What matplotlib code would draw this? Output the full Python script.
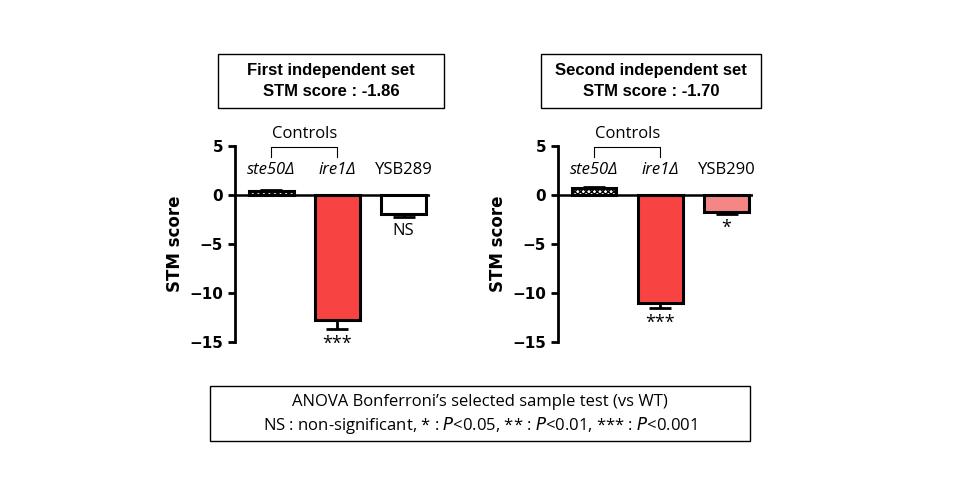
import matplotlib
matplotlib.use("Agg")
import matplotlib.pyplot as plt
from matplotlib.patches import Rectangle

strains_left = ["ste50Δ", "ire1Δ", "YSB289"]
strains_right = ["ste50Δ", "ire1Δ", "YSB290"]
values_left = [0.4, -12.8, -1.9]
errors_left = [0.1, 0.9, 0.3]
values_right = [0.7, -11.0, -1.7]
errors_right = [0.1, 0.5, 0.2]
sig_left = ["", "***", "NS"]
sig_right = ["", "***", "*"]
titles = ["First independent set\nSTM score : -1.86", "Second independent set\nSTM score : -1.70"]
yticks = [5, 0, -5, -10, -15]

fig = plt.figure(figsize=(9.6, 5), dpi=100)
W, H = 960, 500

def fx(px): return px / W
def fy(py): return 1 - py / H

def panel(left_px, strains, vals, errs, sigs, title, third_color):
    ax = fig.add_axes([fx(left_px), fy(342), 195 / W, 196 / H])
    colors = ["white", "#f84343", third_color]
    hatches = ["xxxxxx", None, None]
    for i, (v, e) in enumerate(zip(vals, errs)):
        ax.bar(i, v, width=0.67, color=colors[i], edgecolor="black", linewidth=2.2,
               hatch=hatches[i], zorder=2)
        ax.errorbar(i, v, yerr=[[e] if v < 0 else [0], [0] if v < 0 else [e]],
                    color="black", capsize=8, elinewidth=2, capthick=2, zorder=3)
    ax.set_xlim(-0.55, 2.4)
    ax.set_ylim(-15, 5)
    ax.axhline(0, color="black", lw=1.8, zorder=1)
    for s in ["top", "right", "bottom"]:
        ax.spines[s].set_visible(False)
    ax.spines["left"].set_linewidth(2)
    ax.set_xticks([])
    ax.set_yticks(yticks)
    ax.tick_params(axis="y", width=2, length=5, labelsize=11)
    for lab in ax.get_yticklabels():
        lab.set_fontweight("bold")
    ax.set_ylabel("STM score", fontsize=12, fontweight="bold")
    for i, s in enumerate(strains):
        ax.text(i, 2.6, s, ha="center", va="center", fontsize=12,
                style="italic" if i < 2 else "normal", family="Open Sans")
    for i, s in enumerate(sigs):
        if s:
            y = vals[i] - errs[i] - 1.5
            ax.text(i, y, s, ha="center", va="center", fontsize=13 if s != "NS" else 12,
                    family="Open Sans")
    # Controls bracket
    ax.plot([0, 0, 1, 1], [3.9, 4.9, 4.9, 3.9], color="black", lw=0.8, clip_on=False)
    ax.text(0.5, 6.2, "Controls", ha="center", va="center", fontsize=12, family="Open Sans")
    return ax

panel(235, strains_left, values_left, errors_left, sig_left, titles[0], "white")
panel(558, strains_right, values_right, errors_right, sig_right, titles[1], "#f58686")

def box(x0, y0, x1, y1, text, bold, fs):
    fig.patches.append(Rectangle((fx(x0), fy(y1)), (x1 - x0) / W, (y1 - y0) / H,
                                 transform=fig.transFigure, fill=False, edgecolor="black", lw=1))
    fig.text(fx((x0 + x1) / 2), fy((y0 + y1) / 2), text, ha="center", va="center",
             fontsize=fs, fontweight="bold" if bold else "normal", linespacing=1.5,
             family="Liberation Sans")

box(218, 54, 444, 108, titles[0], True, 12)
box(541, 54, 761, 108, titles[1], True, 12)
fig.text(fx(480), fy(402), "ANOVA Bonferroni’s selected sample test (vs WT)",
         ha="center", va="center", fontsize=12, family="Open Sans")
fig.text(fx(480), fy(425), r"NS : non-significant, * : $\it{P}$<0.05, ** : $\it{P}$<0.01, *** : $\it{P}$<0.001",
         ha="center", va="center", fontsize=12, family="Open Sans")
fig.patches.append(Rectangle((fx(210), fy(441)), 540 / W, 55 / H, transform=fig.transFigure,
                             fill=False, edgecolor="black", lw=1))

fig.savefig("out.png", dpi=100)
